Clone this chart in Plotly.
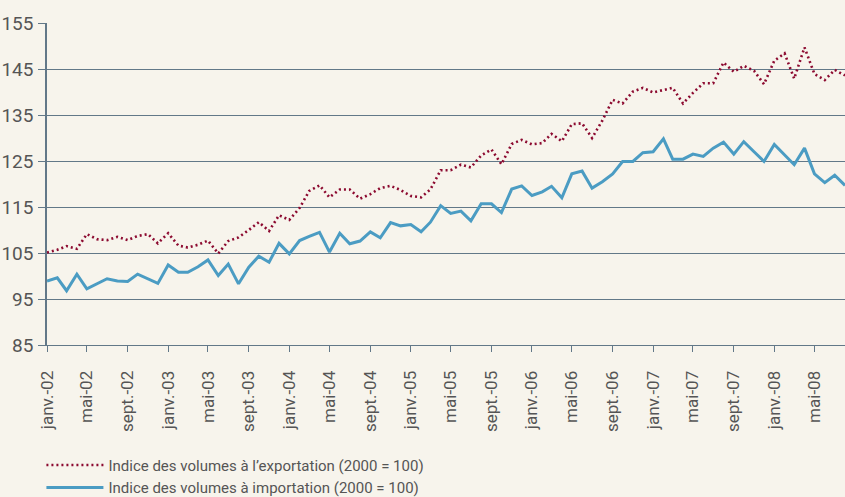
import plotly.graph_objects as go
import pandas as pd

months = pd.date_range("2002-01-01", "2008-08-01", freq="MS")

export_vals = [
    105.1, 105.7, 106.5, 105.9, 109.1, 108.0, 107.8, 108.5, 107.8, 108.7, 109.1, 107.1,
    109.3, 106.6, 106.2, 106.8, 107.7, 104.9, 107.6, 108.4, 110.0, 111.7, 109.8, 113.2,
    112.2, 114.8, 118.5, 119.7, 117.1, 118.8, 118.8, 116.8, 117.8, 119.1, 119.6, 118.7,
    117.4, 117.1, 118.8, 123.0, 123.0, 124.2, 123.6, 126.2, 127.5, 124.3, 128.7, 129.6,
    128.6, 128.9, 130.9, 129.3, 133.0, 133.2, 130.0, 133.8, 138.3, 137.5, 140.1, 140.9,
    139.9, 140.5, 140.9, 137.5, 139.8, 141.9, 141.9, 146.4, 144.4, 145.7, 144.6, 141.7,
    146.8, 148.4, 142.9, 149.7, 143.9, 142.6, 144.8, 143.6,
]

import_vals = [
    98.9, 99.6, 96.8, 100.4, 97.2, 98.3, 99.4, 98.9, 98.8, 100.4, 99.4, 98.4,
    102.4, 100.8, 100.8, 102.0, 103.5, 100.1, 102.6, 98.3, 101.9, 104.3, 103.0, 107.1,
    104.8, 107.7, 108.6, 109.5, 105.2, 109.3, 107.0, 107.6, 109.6, 108.3, 111.6, 110.9,
    111.2, 109.6, 111.7, 115.3, 113.6, 114.1, 112.0, 115.7, 115.7, 113.8, 118.9, 119.6,
    117.5, 118.3, 119.5, 117.0, 122.2, 122.8, 119.1, 120.5, 122.2, 124.9, 124.9, 126.8,
    127.0, 129.8, 125.4, 125.4, 126.5, 126.0, 127.8, 129.1, 126.5, 129.2, 127.0, 124.9,
    128.6, 126.3, 124.2, 127.8, 122.2, 120.3, 121.9, 119.7,
]

tick_dates = pd.date_range("2002-01-01", "2008-05-01", freq="4MS")
month_names = {1: "janv.", 5: "mai", 9: "sept."}
tick_text = [f"{month_names[d.month]}-{d.strftime('%y')}" for d in tick_dates]

y_ticks = [85, 95, 105, 115, 125, 135, 145, 155]

series_names = [
    "Indice des volumes à l’exportation (2000 = 100)",
    "Indice des volumes à importation (2000 = 100)",
]

BG = "#f7f4ec"
GRID = "#627888"
TXT = "#555555"
FONT = "Roboto"

fig = go.Figure()
fig.add_trace(go.Scatter(
    x=months, y=export_vals, mode="lines", name=series_names[0],
    line=dict(color="#8c0a30", width=2.6, dash="2px,3px"),
))
fig.add_trace(go.Scatter(
    x=months, y=import_vals, mode="lines", name=series_names[1],
    line=dict(color="#4b9cc3", width=3),
))

fig.update_layout(
    width=845, height=497,
    margin=dict(l=47, r=0, t=23, b=152, autoexpand=False),
    paper_bgcolor=BG, plot_bgcolor=BG,
    font=dict(family=FONT, color=TXT),
    showlegend=True,
    legend=dict(
        x=-0.007, xanchor="left", y=-0.322, yanchor="top",
        font=dict(size=15, color=TXT, family=FONT),
        bgcolor="rgba(0,0,0,0)", itemwidth=57, tracegroupgap=0,
    ),
    xaxis=dict(
        type="date",
        range=["2002-01-01", "2008-08-01"],
        tickvals=tick_dates, ticktext=tick_text,
        tickangle=-90,
        tickfont=dict(size=17, color=TXT, family=FONT),
        ticks="outside", ticklen=6, tickcolor=GRID, tickwidth=1,
        ticklabelstandoff=12,
        showgrid=False, showline=True, linecolor=GRID, linewidth=1,
        zeroline=False, automargin=False,
    ),
    yaxis=dict(
        range=[85, 155],
        tickvals=y_ticks,
        tickfont=dict(size=19, color=TXT, family=FONT),
        ticks="outside", ticklen=7, tickcolor=GRID, tickwidth=1,
        ticklabelstandoff=1,
        showgrid=True, gridcolor=GRID, gridwidth=1,
        showline=True, linecolor=GRID, linewidth=1.5,
        zeroline=False, automargin=False,
    ),
)

fig.write_html(
    "out.html",
    config={"responsive": False, "displayModeBar": False},
    post_script="document.body.style.margin='0';document.body.style.overflow='hidden';",
)
